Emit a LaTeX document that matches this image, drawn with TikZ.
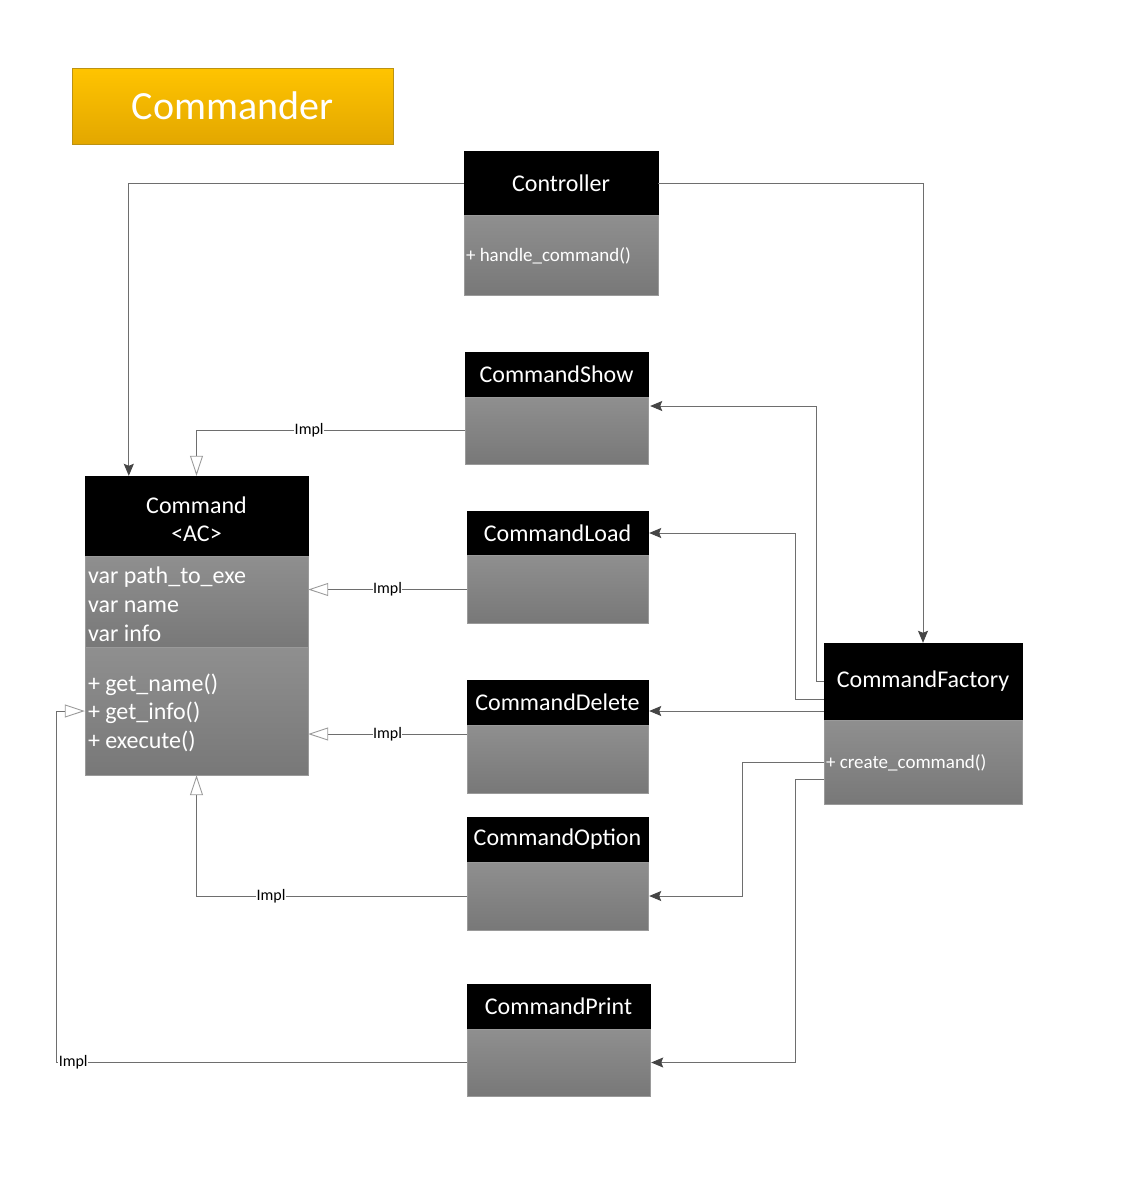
\documentclass[tikz,border=0pt]{standalone}
\usepackage{fontspec}
\setmainfont{Carlito}
\usetikzlibrary{arrows.meta,calc}
\definecolor{ln}{HTML}{6E6E6E}
\definecolor{tipc}{HTML}{454545}
\definecolor{bodyT}{HTML}{8F8F8F}
\definecolor{bodyB}{HTML}{787878}
\definecolor{goldT}{HTML}{FFC400}
\definecolor{goldB}{HTML}{E3A700}
\definecolor{goldL}{HTML}{BC9212}
\definecolor{bline}{HTML}{9A9A9A}
\begin{document}
\begin{tikzpicture}[x=1pt,y=-1pt,
  hdr/.style={fill=black, draw=black, text=white, inner sep=0pt, font=\fontsize{24}{28}\selectfont},
  bodyb/.style={draw=bline, top color=bodyT, bottom color=bodyB, inner sep=0pt},
  btxt/.style={text=white, inner sep=0pt, anchor=west},
  lnk/.style={draw=ln, line width=0.9pt},
  assoc/.style={lnk, -{Stealth[length=12pt,width=10pt,inset=2pt,color=tipc]}},
  impl/.style={lnk, -{Triangle[length=20pt,width=13pt,color=bline,fill=white]}},
  lbl/.style={fill=white, inner sep=0.5pt, text=black, font=\fontsize{16}{16}\selectfont}
]
\useasboundingbox (0,0) rectangle (1123,1181);
\fill[white] (0,0) rectangle (1123,1181);

% title
\node[draw=goldL, top color=goldT, bottom color=goldB, text=white, minimum width=321pt, minimum height=76pt, inner sep=0pt, font=\fontsize{40}{40}\selectfont] (title) at (232.5,106) {Commander};

% Controller
\node[hdr, minimum width=194pt, minimum height=64pt] (ctrlH) at (561,183) {Controller};
\node[bodyb, minimum width=194pt, minimum height=80pt] (ctrlB) at (561,255) {};
\node[btxt, font=\fontsize{19}{22}\selectfont] (ctrlT) at ([xshift=2pt,yshift=-1pt]ctrlB.west) {+ handle\_command()};

% CommandShow
\node[hdr, minimum width=183pt, minimum height=45pt] (showH) at (556.5,374.5) {CommandShow};
\node[bodyb, minimum width=183pt, minimum height=67pt] (showB) at (556.5,430.5) {};

% CommandLoad
\node[hdr, minimum width=181pt, minimum height=44pt] (loadH) at (557.5,533) {CommandLoad};
\node[bodyb, minimum width=181pt, minimum height=68pt] (loadB) at (557.5,589) {};

% CommandDelete
\node[hdr, minimum width=181pt, minimum height=45pt] (delH) at (557.5,702.5) {CommandDelete};
\node[bodyb, minimum width=181pt, minimum height=68pt] (delB) at (557.5,759) {};

% CommandOption
\node[hdr, minimum width=181pt, minimum height=45pt] (optH) at (557.5,839.5) {CommandOption};
\node[bodyb, minimum width=181pt, minimum height=68pt] (optB) at (557.5,896) {};

% CommandPrint
\node[hdr, minimum width=183pt, minimum height=45pt] (printH) at (558.5,1006.5) {CommandPrint};
\node[bodyb, minimum width=183pt, minimum height=67pt] (printB) at (558.5,1062.5) {};

% Command
\node[hdr, minimum width=223pt, minimum height=80pt, align=center] (cmdH) at (196.5,516) {};
\node[text=white, inner sep=0pt, font=\fontsize{24}{28}\selectfont, align=center] (cmdHT) at ([yshift=-3pt]cmdH.center) {Command\\<AC>};
\node[bodyb, minimum width=223pt, minimum height=91pt] (cmdA) at (196.5,601.5) {};
\node[bodyb, minimum width=223pt, minimum height=128pt] (cmdM) at (196.5,711) {};
\node[btxt, font=\fontsize{24}{29}\selectfont, align=left] (cmdAT) at ([xshift=3pt,yshift=-3pt]cmdA.west) {var path\_to\_exe\\var name\\var info};
\node[btxt, font=\fontsize{24}{28.5}\selectfont, align=left] (cmdMT) at ([xshift=3pt,yshift=-1.5pt]cmdM.west) {+ get\_name()\\+ get\_info()\\+ execute()};

% CommandFactory
\node[hdr, minimum width=198pt, minimum height=77pt] (facH) at (923,681.5) {CommandFactory};
\node[bodyb, minimum width=198pt, minimum height=84pt] (facB) at (923,762) {};
\node[btxt, font=\fontsize{19}{22}\selectfont] (facT) at ([xshift=2pt,yshift=-1pt]facB.west) {+ create\_command()};

% associations from Controller
\draw[assoc] (ctrlH.west) -| ([xshift=44pt]cmdH.north west);
\draw[assoc] (ctrlH.east) -| (facH.north);

% implementations
\draw[impl] (showB.west) -| node[lbl, pos=0.29] {Impl} (cmdH.north);
\draw[impl] ([yshift=-0.5pt]loadB.west) -- node[lbl] {Impl} ([yshift=-0.5pt]loadB.west -| cmdA.east);
\draw[impl] ([yshift=25pt]delB.west) -- node[lbl] {Impl} ([yshift=25pt]delB.west -| cmdM.east);
\draw[impl] (optB.west) -| node[lbl, pos=0.362] {Impl} (cmdM.south);
\draw[impl] (printB.west) -| node[lbl, pos=0.48] {Impl} ([xshift=-28pt]cmdM.west) -- (cmdM.west);

% associations from CommandFactory
\draw[assoc] (facH.west) -- ++(-7,0) |- ([xshift=2pt,yshift=24.5pt]showB.east);
\draw[assoc] ([yshift=-17.5pt]facH.west) -- ++(-28,0) |- ([xshift=1pt]loadH.east);
\draw[assoc] ([yshift=-29.5pt]facH.west) -- ([xshift=1pt,yshift=-29.5pt]facH.west -| delH.east);
\draw[assoc] (facB.west) -- ++(-81,0) |- ([xshift=1pt]optB.east);
\draw[assoc] ([yshift=-17pt]facB.west) -- ++(-28,0) |- ([xshift=1pt]printB.east);
\end{tikzpicture}
\end{document}
